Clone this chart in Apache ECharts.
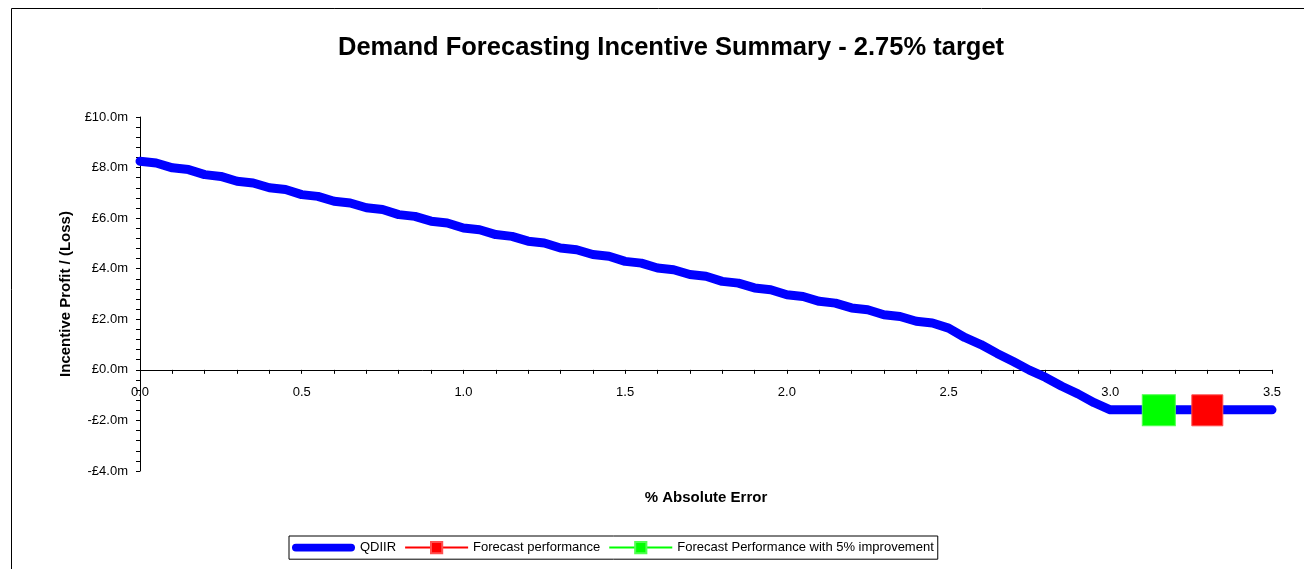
<!DOCTYPE html>
<html>
<head>
<meta charset='utf-8'>
<script src='https://cdn.jsdelivr.net/npm/echarts@6/dist/echarts.min.js'></script>
<style>
  html, body { margin: 0; padding: 0; background: #fff; }
  #chart { width: 1304px; height: 569px; }
</style>
</head>
<body>
<div id='chart'></div>
<script>
// % absolute error, steps of 0.05
const errorSteps = [
  0.00, 0.05, 0.10, 0.15, 0.20, 0.25, 0.30, 0.35, 0.40, 0.45,
  0.50, 0.55, 0.60, 0.65, 0.70, 0.75, 0.80, 0.85, 0.90, 0.95,
  1.00, 1.05, 1.10, 1.15, 1.20, 1.25, 1.30, 1.35, 1.40, 1.45,
  1.50, 1.55, 1.60, 1.65, 1.70, 1.75, 1.80, 1.85, 1.90, 1.95,
  2.00, 2.05, 2.10, 2.15, 2.20, 2.25, 2.30, 2.35, 2.40, 2.45,
  2.50, 2.55, 2.60, 2.65, 2.70, 2.75, 2.80, 2.85, 2.90, 2.95,
  3.00, 3.05, 3.10, 3.15, 3.20, 3.25, 3.30, 3.35, 3.40, 3.45, 3.50,
]
// incentive profit / (loss), £m
const qdiirValues = [
  8.25, 8.18, 7.99, 7.92, 7.72, 7.65, 7.46, 7.39, 7.20, 7.13,
  6.93, 6.86, 6.67, 6.60, 6.41, 6.34, 6.14, 6.07, 5.88, 5.81,
  5.61, 5.54, 5.35, 5.28, 5.09, 5.02, 4.82, 4.75, 4.56, 4.49,
  4.29, 4.22, 4.03, 3.96, 3.77, 3.70, 3.50, 3.43, 3.24, 3.17,
  2.97, 2.90, 2.71, 2.64, 2.45, 2.38, 2.18, 2.11, 1.92, 1.85,
  1.65, 1.28, 1.00, 0.65, 0.33, -0.01, -0.30, -0.65, -0.95, -1.30,
  -1.58, -1.58, -1.58, -1.58, -1.58, -1.58, -1.58, -1.58, -1.58, -1.58, -1.58,
]
const forecastPoint = [3.30, -1.60]
const improvedPoint = [3.15, -1.60]
const xTicks = [0.0, 0.5, 1.0, 1.5, 2.0, 2.5, 3.0, 3.5]
const yTicks = [-4, -2, 0, 2, 4, 6, 8, 10]

const font = "'Liberation Sans', Arial, sans-serif"

function formatMoney(v) {
  const sign = v < 0 ? '-' : ''
  return `${sign}£${Math.abs(v).toFixed(1)}m`
}

// plot box, in px
const gridTop = 117
const gridBottom = 98
const plotHeight = 569 - gridTop - gridBottom
// lift the x axis (line, ticks, labels) up to the £0 level
const zeroOffset = -plotHeight * (0 - yTicks[0]) / (yTicks[yTicks.length - 1] - yTicks[0])

const chart = echarts.init(document.getElementById('chart'))
const option = {
  backgroundColor: '#fff',
  animation: false,
  textStyle: { fontFamily: font, color: '#000' },
  title: {
    text: 'Demand Forecasting Incentive Summary - 2.75% target',
    left: 333,
    top: 30,
    textStyle: { fontFamily: font, fontSize: 25.5, fontWeight: 'bold', color: '#000' },
  },
  graphic: [{
    type: 'rect',
    shape: { x: 11.5, y: 8.5, width: 1400, height: 700 },
    style: { fill: 'none', stroke: '#000', lineWidth: 1 },
    silent: true,
  }],
  legend: {
    left: 289,
    top: 536,
    padding: [5, 4, 5, 3],
    borderColor: '#000',
    borderWidth: 1,
    itemWidth: 63,
    itemHeight: 14,
    itemGap: 8,
    textStyle: { fontFamily: font, fontSize: 13, color: '#000' },
    data: [
      // thick rounded line, drawn as a capsule so no marker shows
      { name: 'QDIIR', icon: 'path://M4,0H60A4,4,0,0,1,60,8H4A4,4,0,0,1,4,0Z' },
      { name: 'Forecast performance' },
      { name: 'Forecast Performance with 5% improvement' },
    ],
  },
  grid: { left: 140, right: 32, top: gridTop, bottom: gridBottom, outerBoundsMode: 'none' },
  xAxis: {
    type: 'value',
    position: 'bottom',
    offset: zeroOffset,
    min: xTicks[0],
    max: xTicks[xTicks.length - 1],
    interval: 0.5,
    name: '% Absolute Error',
    nameLocation: 'middle',
    nameGap: 121,
    nameTextStyle: { fontFamily: font, fontSize: 15, fontWeight: 'bold', color: '#000' },
    axisLine: { onZero: false, lineStyle: { color: '#000', width: 1 } },
    axisTick: { show: true, length: 4, lineStyle: { color: '#000' } },
    minorTick: { show: true, splitNumber: 5, length: 4, lineStyle: { color: '#000' } },
    splitLine: { show: false },
    axisLabel: {
      margin: 16,
      fontSize: 13,
      color: '#000',
      formatter: (v) => v.toFixed(1),
    },
  },
  yAxis: {
    type: 'value',
    min: yTicks[0],
    max: yTicks[yTicks.length - 1],
    interval: 2,
    name: 'Incentive Profit / (Loss)',
    nameLocation: 'middle',
    nameGap: 57,
    nameTextStyle: { fontFamily: font, fontSize: 15, fontWeight: 'bold', color: '#000' },
    axisLine: { show: true, onZero: false, lineStyle: { color: '#000', width: 1 } },
    axisTick: { show: true, length: 4, lineStyle: { color: '#000' } },
    minorTick: { show: true, splitNumber: 5, length: 4, lineStyle: { color: '#000' } },
    splitLine: { show: false },
    axisLabel: {
      margin: 12,
      fontSize: 13,
      color: '#000',
      formatter: formatMoney,
    },
  },
  series: [
    {
      name: 'QDIIR',
      type: 'line',
      symbol: 'none',
      color: '#0000ff',
      lineStyle: { color: '#0000ff', width: 9, cap: 'round', join: 'round' },
      data: errorSteps.map((x, i) => [x, qdiirValues[i]]),
      z: 2,
    },
    {
      name: 'Forecast performance',
      type: 'line',
      symbol: 'rect',
      symbolSize: [31, 31],
      color: '#ff0000',
      itemStyle: { color: '#ff0000', borderColor: '#ff5050', borderWidth: 1 },
      lineStyle: { color: '#ff0000', width: 1.5 },
      data: [forecastPoint],
      z: 3,
    },
    {
      name: 'Forecast Performance with 5% improvement',
      type: 'line',
      symbol: 'rect',
      symbolSize: [33, 31],
      color: '#00ff00',
      itemStyle: { color: '#00ff00', borderColor: '#50ff50', borderWidth: 1 },
      lineStyle: { color: '#00ff00', width: 1.5 },
      data: [improvedPoint],
      z: 3,
    },
  ],
}
chart.setOption(option)
</script>
</body>
</html>
